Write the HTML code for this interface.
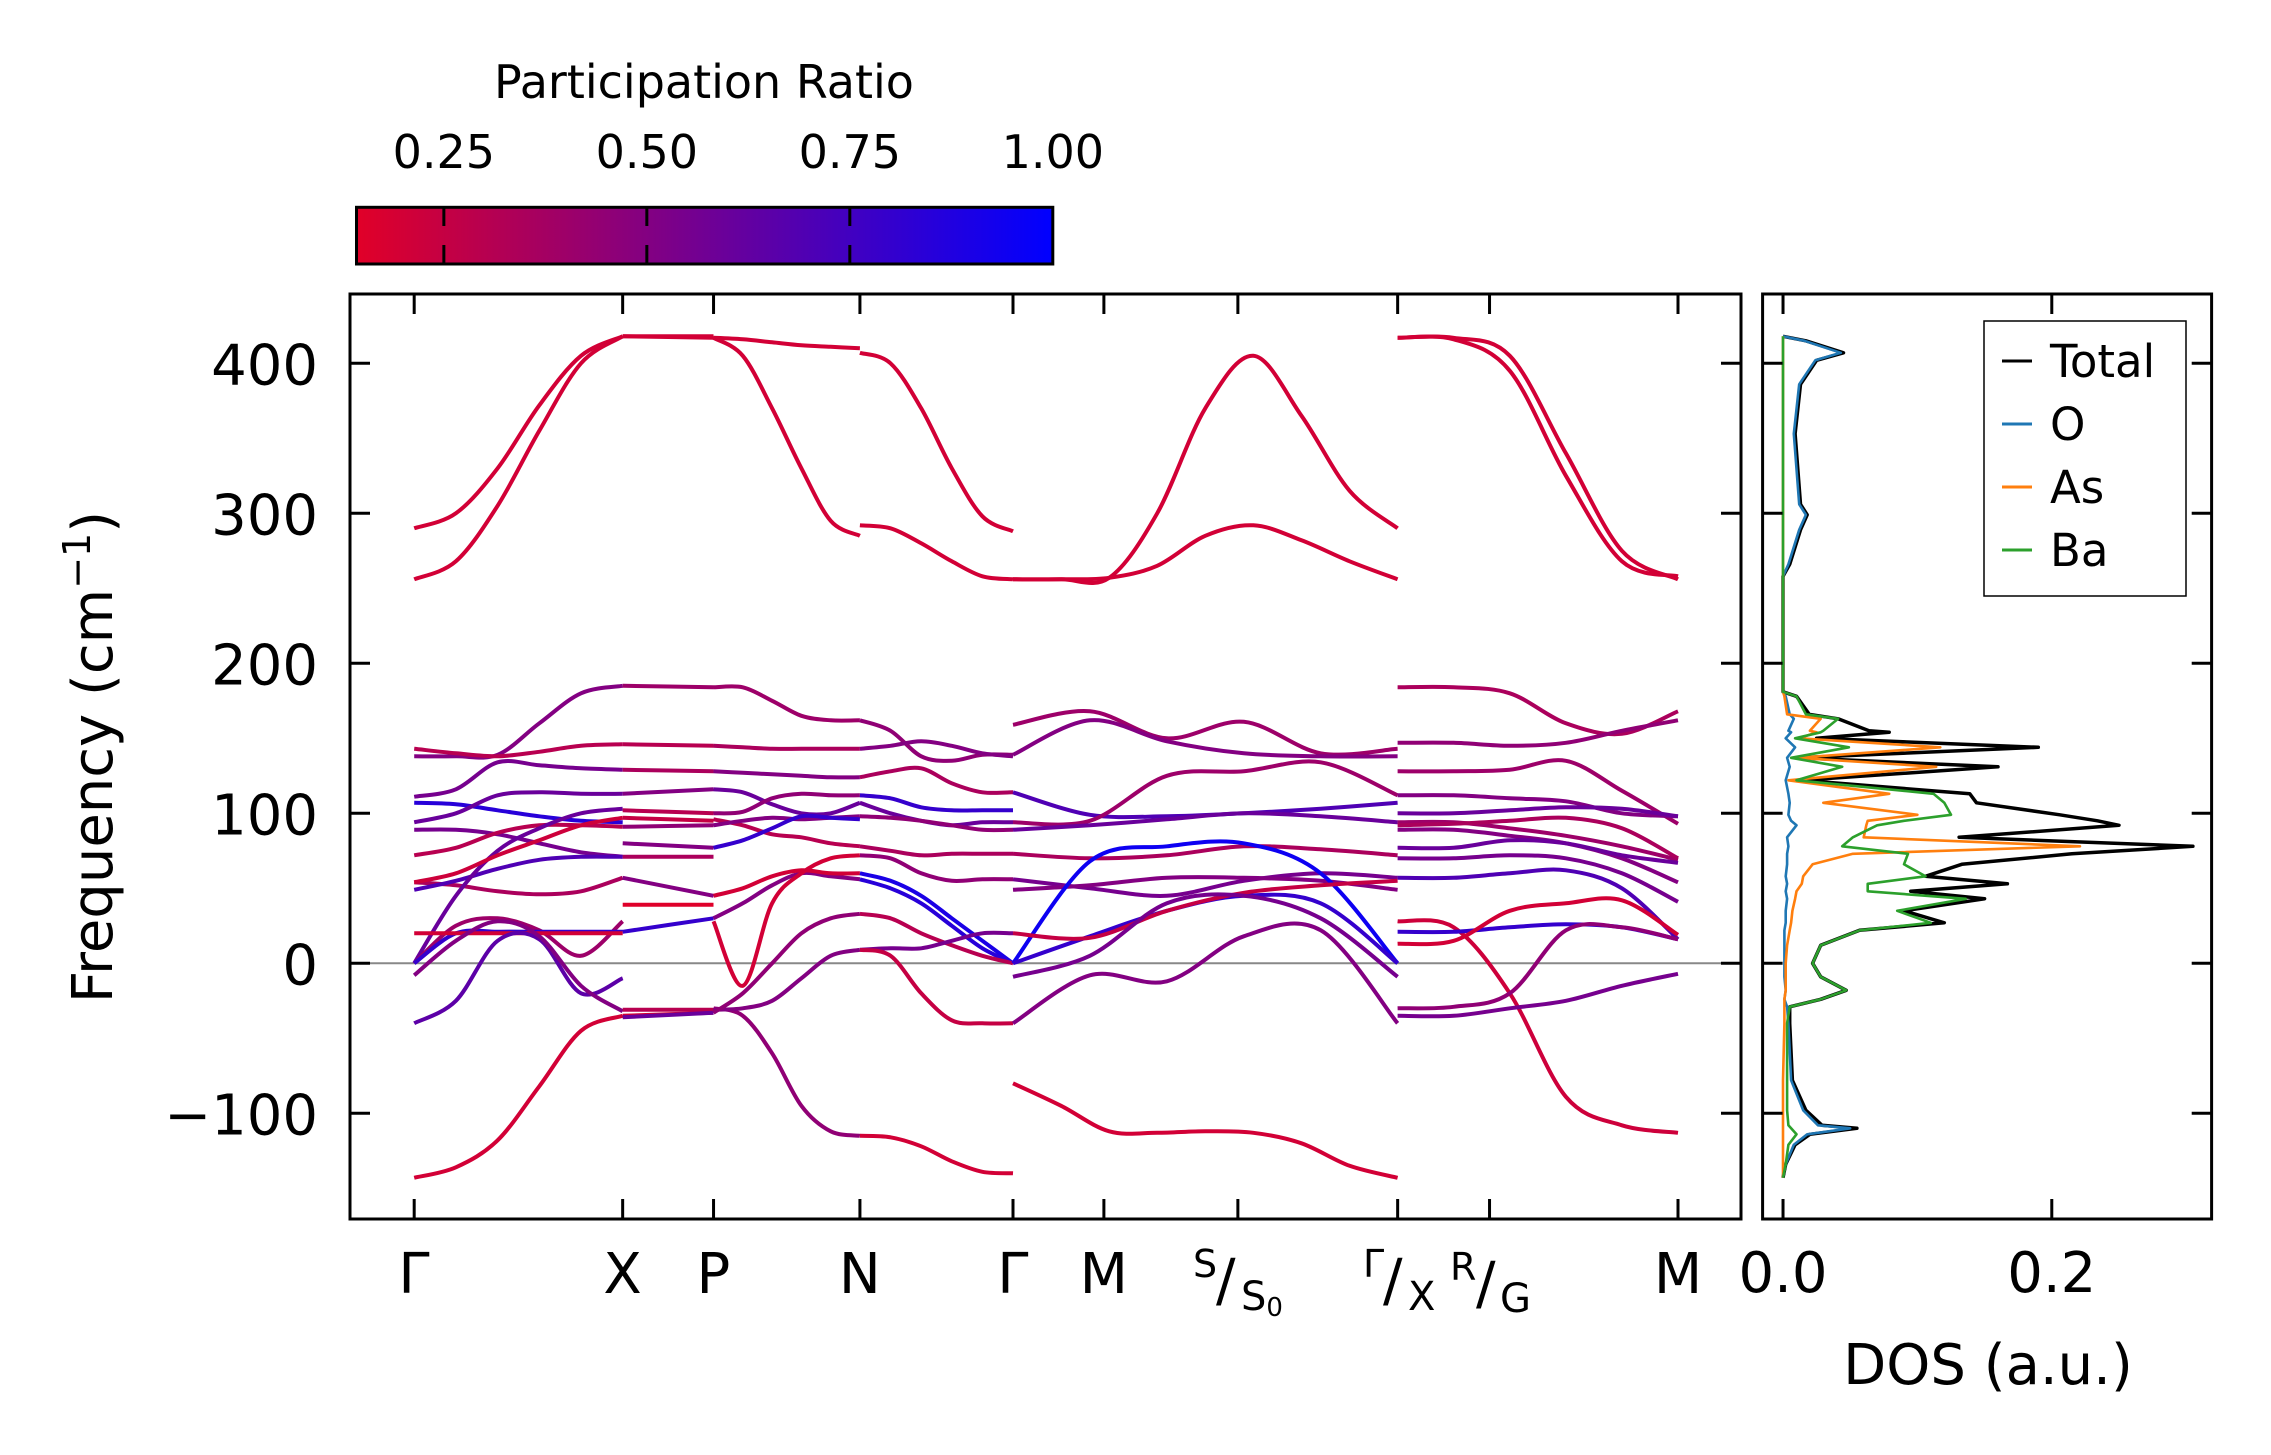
<!DOCTYPE html>
<html><head><meta charset="utf-8"><style>
html,body{margin:0;padding:0;background:#fff;}
svg{display:block;font-family:"DejaVu Sans","Liberation Sans",sans-serif;}
</style></head><body>
<svg id="fig" width="2271" height="1455" viewBox="0 0 2271 1455" xmlns="http://www.w3.org/2000/svg">
<defs>
<linearGradient id="cmap" x1="0" x2="1" y1="0" y2="0">
<stop offset="0" stop-color="rgb(225,0,40)"/><stop offset="1" stop-color="rgb(0,0,255)"/>
</linearGradient>
<clipPath id="mainclip"><rect x="350" y="294" width="1391" height="925"/></clipPath>
<clipPath id="dosclip"><rect x="1763" y="294" width="449" height="925"/></clipPath>
</defs>
<g id="colorbar">
<text x="704" y="98" font-size="46" text-anchor="middle">Participation Ratio</text>
<rect x="356.5" y="207.3" width="696.3" height="56.7" fill="url(#cmap)" stroke="#000" stroke-width="3"/>
<g id="cbticks"></g>
</g>
<g id="main">
<line x1="350" x2="1741" y1="963.3" y2="963.3" stroke="#888" stroke-width="2"/>
<g id="bands" clip-path="url(#mainclip)"></g>
<rect x="350" y="294" width="1391" height="925" fill="none" stroke="#000" stroke-width="3"/>
<g id="mainticks"></g>
<text transform="translate(112,757) rotate(-90)" font-size="56" text-anchor="middle">Frequency (cm<tspan font-size="38" dy="-22">−1</tspan><tspan dy="22">)</tspan></text>
<g id="klabels" font-size="56">
<text x="414" y="1293" text-anchor="middle">Γ</text>
<text x="622.5" y="1293" text-anchor="middle">X</text>
<text x="713.4" y="1293" text-anchor="middle">P</text>
<text x="859.8" y="1293" text-anchor="middle">N</text>
<text x="1012.9" y="1293" text-anchor="middle">Γ</text>
<text x="1103.8" y="1293" text-anchor="middle">M</text>
<text x="1193" y="1277" font-size="38">S</text><text x="1216" y="1300" font-size="58">/</text><text x="1241" y="1310" font-size="40">S<tspan font-size="26" dy="6">0</tspan></text>
<text x="1363" y="1277" font-size="38">Γ</text><text x="1383" y="1300" font-size="58">/</text><text x="1408" y="1310" font-size="40">X</text>
<text x="1450" y="1280" font-size="38">R</text><text x="1476" y="1303" font-size="58">/</text><text x="1500" y="1312" font-size="40">G</text>
<text x="1678" y="1293" text-anchor="middle">M</text>
</g>
</g>
<g id="dos">
<g id="doslines" clip-path="url(#dosclip)"></g>
<rect x="1762.6" y="294" width="449" height="925" fill="none" stroke="#000" stroke-width="3"/>
<g id="dosticks"></g>
<text x="1988" y="1384" font-size="56" text-anchor="middle">DOS (a.u.)</text>
<g>
<rect x="1984" y="321" width="202" height="275" fill="#fff" stroke="#000" stroke-width="1.5"/>
<g id="legend" font-size="45"></g>
</g>
</g>
</svg>
<script>
// ---------- data ----------
const kLabels = ["Γ","X","P","N","Γ","M","S/S0","Γ/X","R/G","M"];
const kTicks = [0, 2.085, 2.994, 4.458, 5.989, 6.898, 8.238, 9.836, 10.755, 12.64];
const yTicks = [-100, 0, 100, 200, 300, 400];
const cbTicks = [0.25, 0.5, 0.75, 1.0];
const segments = [[0,1],[1,2],[2,3],[3,4],[4,7],[7,9]];
const bandSeg = [
0,0,0,0,0,0,0,0,0,0,0,0,0,0,0,0,0,0,0,
1,1,1,1,1,1,1,1,1,1,1,1,1,1,1,1,1,
2,2,2,2,2,2,2,2,2,2,2,2,2,2,2,2,
3,3,3,3,3,3,3,3,3,3,3,3,3,3,3,3,
4,4,4,4,4,4,4,4,4,4,4,4,4,4,4,4,
5,5,5,5,5,5,5,5,5,5,5,5,5,5,5,5,5,5
];
const bandPR = [
0.2,0.2,0.2,0.5,0.3,0.55,0.85,0.6,0.55,0.3,0.35,0.7,0.6,0.4,0.8,0.2,0.65,0.5,0.22,
0.2,0.2,0.2,0.4,0.3,0.35,0.5,0.3,0.25,0.45,0.5,0.35,0.5,0.15,0.8,0.3,0.6,
0.2,0.2,0.45,0.4,0.35,0.5,0.6,0.45,0.3,0.5,0.5,0.8,0.2,0.5,0.45,0.2,
0.2,0.2,0.2,0.45,0.5,0.35,0.8,0.6,0.45,0.35,0.9,0.45,0.85,0.3,0.55,0.25,
0.2,0.2,0.2,0.4,0.5,0.7,0.4,0.6,0.35,0.55,0.5,0.95,0.8,0.25,0.5,0.55,
0.2,0.2,0.22,0.35,0.45,0.4,0.5,0.6,0.4,0.5,0.6,0.55,0.7,0.8,0.2,0.45,0.55,0.35
];
const bandVals = [
[290,300,330,372,405,418],[256,268,305,355,400,418],[-143,-136,-118,-82,-45,-35],
[138,138,139,160,180,185],[143,140,138,141,145,146],[111,116,134,132,130,129],[107,106,102,98,95,94],
[94,100,112,114,113,113],[89,89,86,80,74,71],[72,77,87,92,92,91],[54,52,48,46,48,57],[49,55,63,69,71,71],
[0,45,75,90,100,103],[0,25,30,22,5,28],[0,20,21,21,21,21],[20,20,20,20,20,20],[-40,-25,15,16,-20,-10],[-8,15,28,18,-15,-32],[54,60,72,82,92,97],
[418,418],[-35,-33],[418,417],[185,184],[146,145],[129,128],[113,116],[102,100],[97,95],[91,92],[80,77],[71,71],[57,45],[39,39],[21,30],[-31,-31],[-36,-33],
[417,416,414,412,411,410],[417,405,370,330,295,285],[-30,-35,-60,-95,-112,-115],
[184,184,175,165,162,162],[145,144,143,143,143,143],[128,127,126,125,124,124],[116,114,106,100,100,107],[100,101,110,113,112,112],
[96,92,86,84,80,78],[92,95,97,96,97,98],[30,40,52,60,58,56],[77,82,90,98,97,96],[28,-15,40,60,70,72],[-31,-30,-25,-10,5,9],[-33,-20,0,20,30,33],[45,50,58,62,60,60],
[407,400,370,330,298,288],[292,290,280,268,258,256],[-115,-116,-122,-132,-139,-140],
[162,155,138,135,139,139],[143,145,148,145,140,138],[124,128,130,120,114,114],[112,110,104,102,102,102],[107,100,95,92,94,94],
[98,97,95,92,89,89],[78,75,72,73,73,73],[60,55,45,30,15,0],[72,70,60,55,56,56],[56,50,40,25,10,0],[33,30,20,12,5,0],[9,10,10,15,20,20],[9,5,-20,-38,-40,-40],
[256,256,257,300,370,405,365,315,290],[256,256,257,265,285,292,282,268,256],[-80,-95,-112,-113,-112,-113,-120,-135,-143],
[159,168,150,161,140,143],[139,162,148,140,138,138],[114,99,98,100,103,107],[94,95,125,128,134,112],[89,92,96,100,98,94],
[73,70,72,78,76,72],[56,50,45,55,60,57],[49,52,57,57,55,49],[0,68,78,80,60,0],[0,18,35,45,40,0],[20,17,35,47,52,55],[-40,-8,-12,18,22,-40],[-9,5,40,45,30,-9],
[417,417,405,340,275,256],[417,416,395,325,268,258],[28,24,-20,-89,-108,-113],
[184,184,180,160,153,168],[147,147,145,147,155,162],[128,128,129,135,115,93],[112,112,110,108,100,98],[100,100,102,104,103,98],
[94,94,90,85,78,69],[89,89,85,80,70,54],[77,77,82,80,72,67],[70,70,72,70,60,41],[57,57,60,62,50,16],[21,21,24,26,24,16],[13,15,35,40,42,19],
[-30,-29,-20,22,24,16],[-35,-35,-30,-25,-15,-7],[92,93,95,97,90,70]
];
const dosFreq = [418,415,407,402,386,353,306,299,289,266,258,230,181,178,166,163,155,154,150,144,137,131,122,113,107,99,95,92,84,78,73,66,58,53,48,43,35,27,22,12,0,-9,-18,-24,-29,-40,-78,-98,-108,-110,-114,-121,-134,-143];
const dosTotal = [0,0.017,0.045,0.025,0.013,0.009,0.013,0.018,0.013,0.005,0,0,0,0.010,0.0195,0.041,0.064,0.079,0.025,0.190,0.011,0.160,0.014,0.139,0.144,0.206,0.234,0.250,0.131,0.305,0.215,0.133,0.106,0.167,0.095,0.150,0.090,0.120,0.057,0.028,0.022,0.028,0.047,0.028,0.005,0.005,0.007,0.017,0.029,0.055,0.020,0.009,0.002,0];
const dosO = [0,0.016,0.043,0.024,0.012,0.008,0.012,0.017,0.012,0.004,0,0,0,0.002,0.005,0.008,0.004,0.006,0.002,0.009,0.003,0.005,0.002,0.004,0.005,0.004,0.006,0.010,0.003,0.004,0.003,0.003,0.002,0.003,0.002,0.003,0.002,0.002,0.001,0.001,0.001,0.001,0.002,0.001,0.003,0.004,0.006,0.015,0.026,0.050,0.018,0.008,0.002,0];
const dosAs = [0,0,0,0,0,0,0,0,0,0,0,0,0,0.001,0.003,0.028,0.020,0.025,0.012,0.117,0.011,0.114,0.004,0.079,0.030,0.100,0.063,0.062,0.060,0.221,0.052,0.022,0.015,0.014,0.010,0.009,0.007,0.006,0.005,0.003,0.002,0.002,0.002,0.001,0.001,0.001,0,0,0,0,0,0,0,0];
const dosBa = [0,0,0,0,0,0,0,0,0,0,0,0,0,0.010,0.017,0.041,0.030,0.028,0.009,0.049,0.006,0.044,0.010,0.112,0.120,0.125,0.090,0.070,0.052,0.044,0.093,0.090,0.106,0.063,0.063,0.136,0.085,0.110,0.057,0.028,0.022,0.028,0.047,0.028,0.005,0.003,0.003,0.003,0.004,0.006,0.010,0.004,0.002,0];
const legendNames = ["Total","O","As","Ba"];
const legendColors = ["#000000","#1f77b4","#ff7f0e","#2ca02c"];

const NS = "http://www.w3.org/2000/svg";
const MX0=350, MX1=1741, MY0=294, MY1=1219;
const kMin=-0.642, kMax=13.27, fMin=-170.5, fMax=446.2;
const DX0=1762.6, DX1=2211.7, dMin=-0.0152, dMax=0.319;
const CX0=356.5, CX1=1052.8, cMin=0.1424, cMax=1.0;
function xk(k){return MX0+(k-kMin)/(kMax-kMin)*(MX1-MX0);}
function yf(f){return MY1-(f-fMin)/(fMax-fMin)*(MY1-MY0);}
function xd(d){return DX0+(d-dMin)/(dMax-dMin)*(DX1-DX0);}
function xc(c){return CX0+(c-cMin)/(cMax-cMin)*(CX1-CX0);}
function color(pr){const t=Math.max(0,Math.min(1,(pr-cMin)/(cMax-cMin)));return "rgb("+Math.round(225*(1-t))+",0,"+Math.round(40+215*t)+")";}
function mk(tag,attrs,parent){const e=document.createElementNS(NS,tag);for(const k in attrs)e.setAttribute(k,attrs[k]);parent.appendChild(e);return e;}
function smooth(pts){let d="M"+pts[0][0].toFixed(1)+","+pts[0][1].toFixed(1);
 for(let i=0;i<pts.length-1;i++){const p0=pts[Math.max(0,i-1)],p1=pts[i],p2=pts[i+1],p3=pts[Math.min(pts.length-1,i+2)];
 const c1=[p1[0]+(p2[0]-p0[0])/6,p1[1]+(p2[1]-p0[1])/6],c2=[p2[0]-(p3[0]-p1[0])/6,p2[1]-(p3[1]-p1[1])/6];
 d+="C"+c1[0].toFixed(1)+","+c1[1].toFixed(1)+" "+c2[0].toFixed(1)+","+c2[1].toFixed(1)+" "+p2[0].toFixed(1)+","+p2[1].toFixed(1);}
 return d;}

const gB=document.getElementById('bands');
bandVals.forEach((vals,i)=>{
 const s=segments[bandSeg[i]];
 if(!s) return;
 const k0=kTicks[s[0]],k1=kTicks[s[1]];
 const pts=vals.map((v,j)=>[xk(k0+(k1-k0)*j/(vals.length-1)),yf(v)]);
 const p=mk('path',{d:smooth(pts),fill:'none',stroke:color(bandPR[i]===undefined?0.4:bandPR[i]),'stroke-width':4},gB);
 
 
});

const gT=document.getElementById('mainticks');
const gDT=document.getElementById('dosticks');
kTicks.forEach(k=>{const x=xk(k);
 const a=mk('line',{x1:x,x2:x,y1:MY1,y2:MY1-20,stroke:'#000','stroke-width':3},gT);
 
 
 const b=mk('line',{x1:x,x2:x,y1:MY0,y2:MY0+20,stroke:'#000','stroke-width':3},gT);
 
 
});
yTicks.forEach(f=>{const y=yf(f);
 const a=mk('line',{x1:MX0,x2:MX0+20,y1:y,y2:y,stroke:'#000','stroke-width':3},gT);
 
 
 const b=mk('line',{x1:MX1,x2:MX1-20,y1:y,y2:y,stroke:'#000','stroke-width':3},gT);
 
 
 const t=mk('text',{x:318,y:y+21,'font-size':56,'text-anchor':'end'},gT);
 t.textContent=f>=0?String(f):'\u2212'+Math.abs(f);
 
 
 const c=mk('line',{x1:DX0,x2:DX0+20,y1:y,y2:y,stroke:'#000','stroke-width':3},gDT);
 
 
 const d=mk('line',{x1:DX1,x2:DX1-20,y1:y,y2:y,stroke:'#000','stroke-width':3},gDT);
 
 
});

const gC=document.getElementById('cbticks');
cbTicks.forEach(c=>{const x=xc(c);
 if(c!==1){
 const a=mk('line',{x1:x,x2:x,y1:207.3,y2:226,stroke:'#000','stroke-width':3},gC);
 
 
 const b=mk('line',{x1:x,x2:x,y1:245,y2:264,stroke:'#000','stroke-width':3},gC);
 
 }
 const t=mk('text',{x:x,y:168,'font-size':46,'text-anchor':'middle'},gC);
 t.textContent=c.toFixed(2);
 
 
});

const dosSeries=[dosTotal,dosO,dosAs,dosBa];
const gD=document.getElementById('doslines');
dosSeries.forEach((ser,i)=>{
 const d=ser.map((v,j)=>(j?'L':'M')+xd(v).toFixed(1)+','+yf(dosFreq[j]).toFixed(1)).join('');
 const p=mk('path',{d:d,fill:'none',stroke:legendColors[i],'stroke-width':i===0?3.5:2.6,'stroke-linejoin':'round'},gD);
 
 
});
const dTicks=[0.0,0.2];
dTicks.forEach(v=>{const x=xd(v);
 const a=mk('line',{x1:x,x2:x,y1:MY1,y2:MY1-20,stroke:'#000','stroke-width':3},gDT);
 
 
 const b=mk('line',{x1:x,x2:x,y1:MY0,y2:MY0+20,stroke:'#000','stroke-width':3},gDT);
 
 
 const t=mk('text',{x:x,y:1292,'font-size':56,'text-anchor':'middle'},gDT);
 t.textContent=v.toFixed(1);
 
 
});
const gL=document.getElementById('legend');
legendNames.forEach((n,i)=>{const y=361+i*63;
 const l=mk('line',{x1:2002,x2:2032,y1:y,y2:y,stroke:legendColors[i],'stroke-width':3},gL);
 
 
 const t=mk('text',{x:2050,y:y+16},gL);
 t.textContent=n;
 
 
});
</script>
</body></html>
